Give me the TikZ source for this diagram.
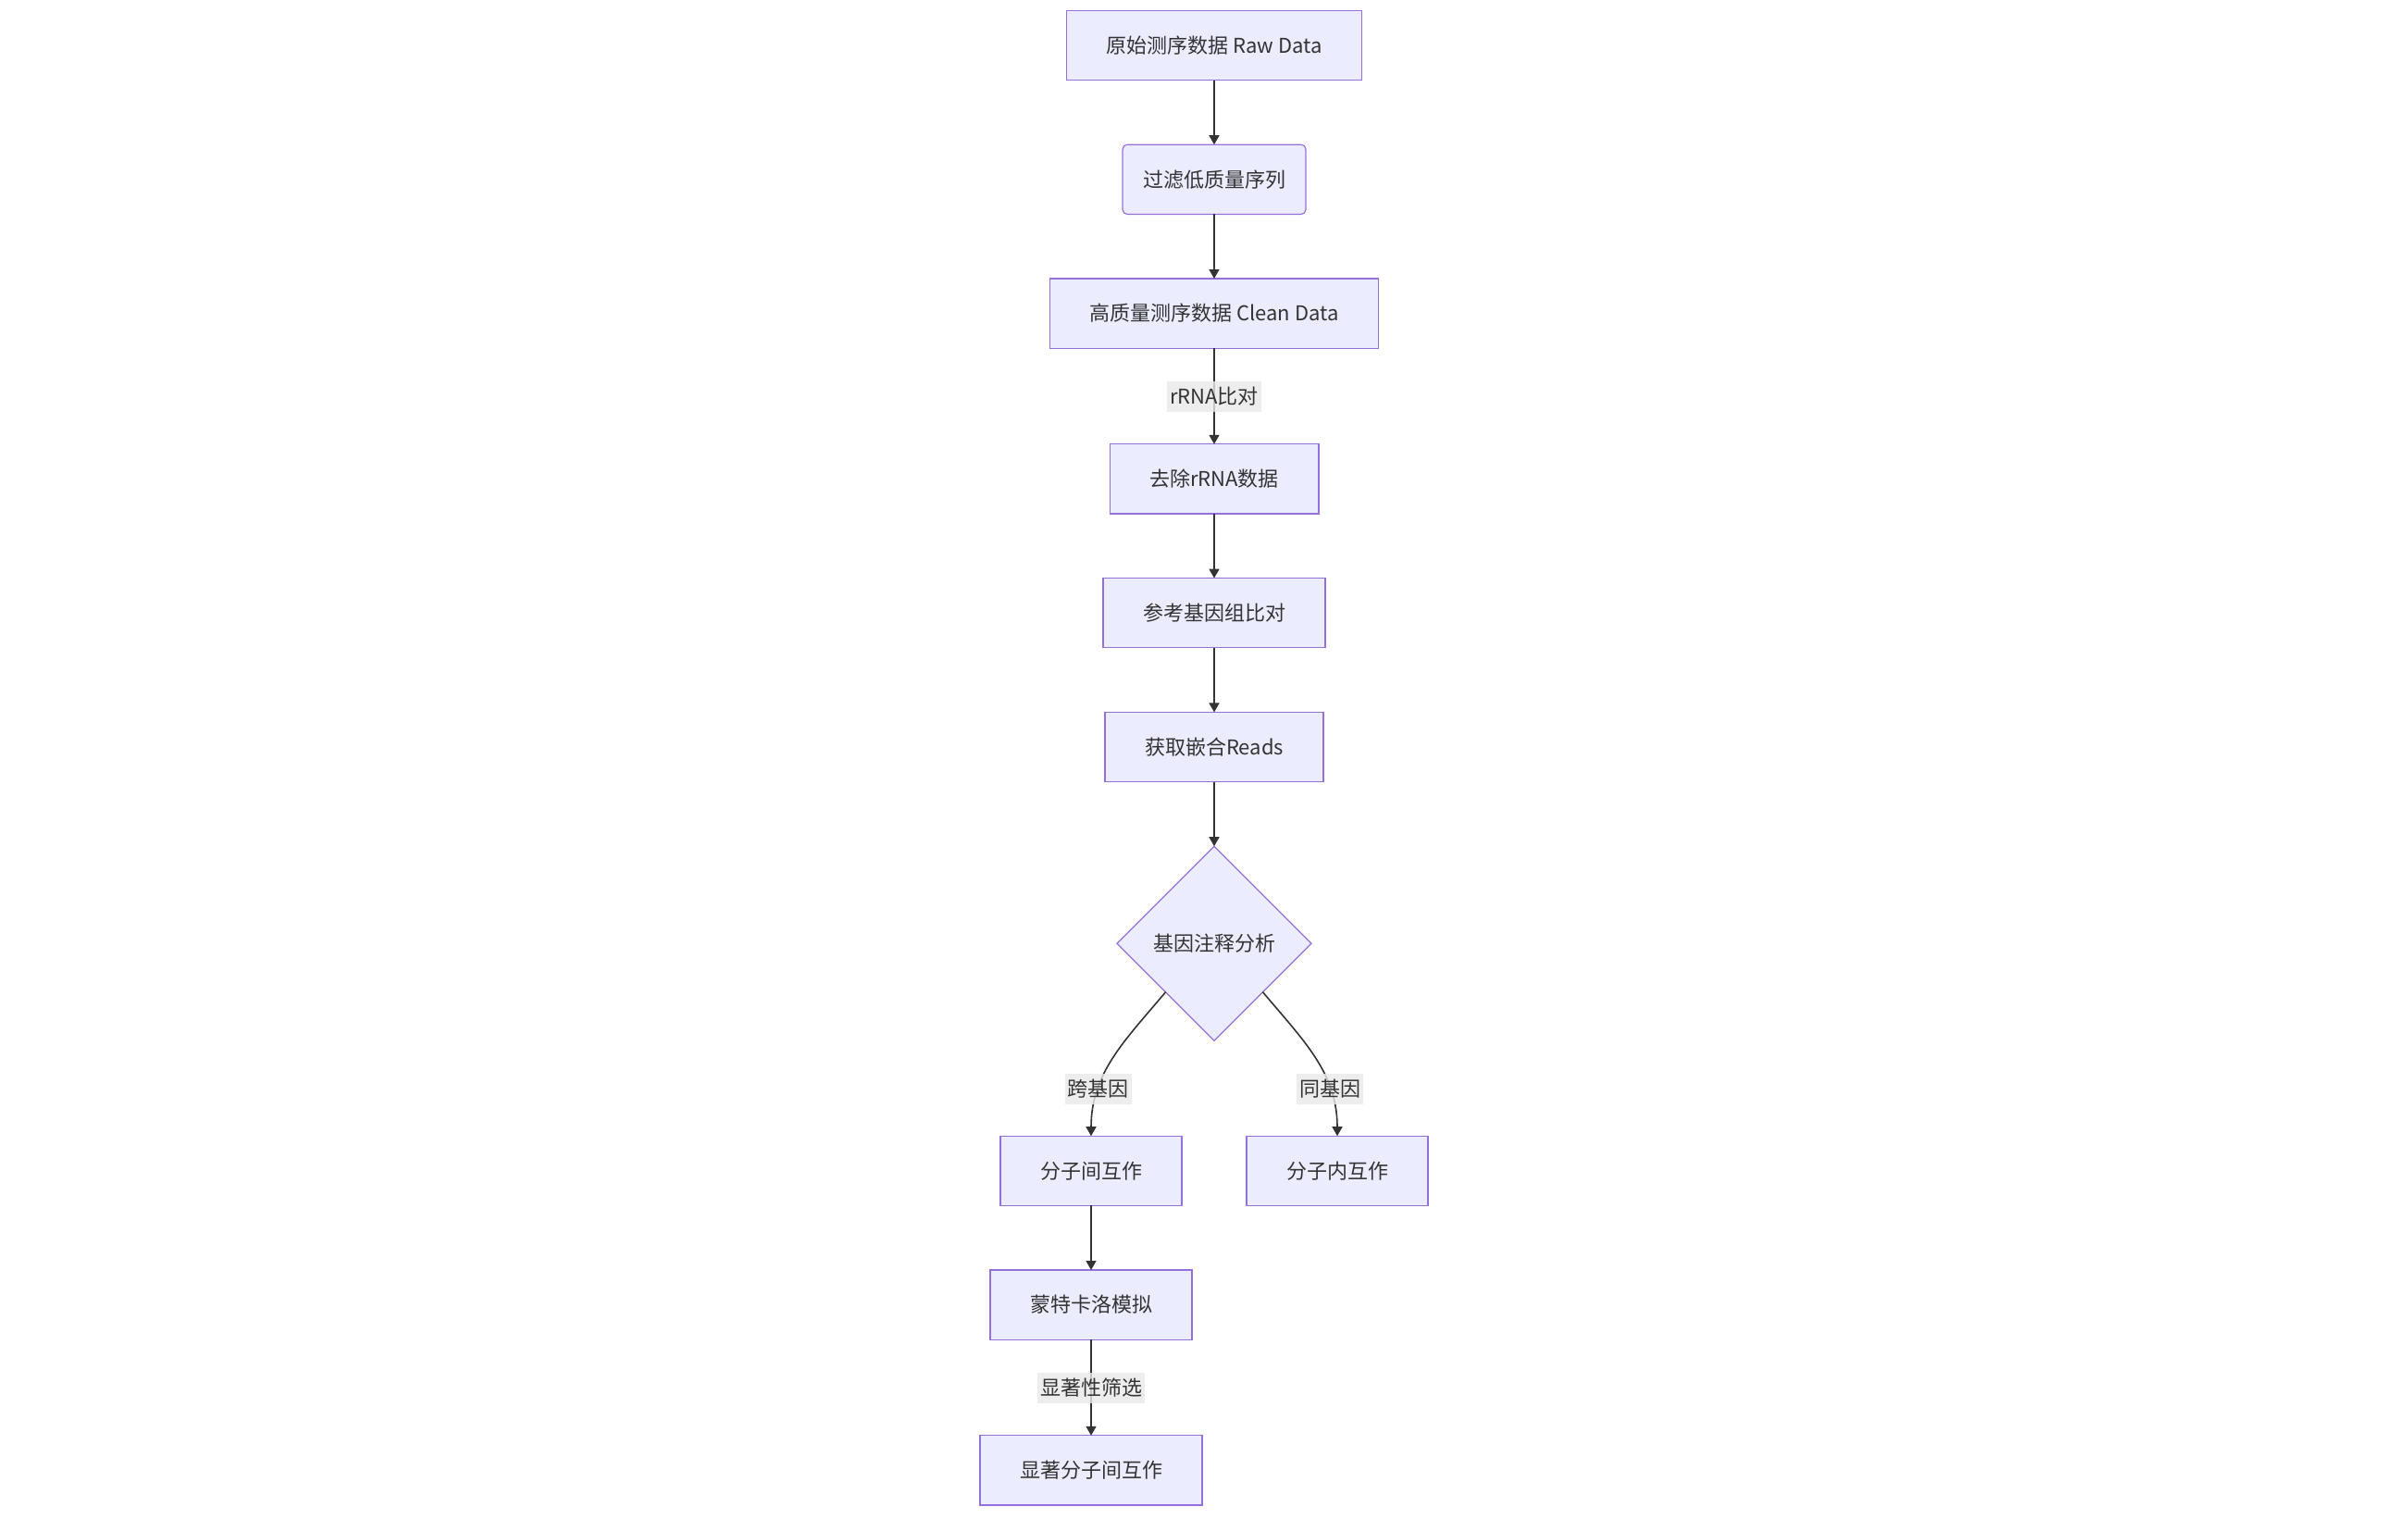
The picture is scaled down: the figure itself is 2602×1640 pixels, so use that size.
\documentclass[tikz,border=0pt]{standalone}
\usepackage{fontspec}
\setmainfont{Noto Sans CJK SC}
\usepackage{xcolor}
\usepackage{tikz}
\usetikzlibrary{arrows.meta,positioning,shapes.geometric}
\tikzset{
  procbox/.style ={draw=nodeborder, fill=nodefill, line width=0.6pt,
                   text=textgray, minimum height=37.6pt, inner xsep=21.5pt,
                   outer sep=0pt, font=\fontsize{11}{13}\selectfont},
  roundbox/.style={procbox, rounded corners=2.5pt, inner xsep=11pt},
  decbox/.style  ={procbox, diamond, aspect=1, inner sep=0pt,
                   minimum width=105pt, minimum height=105pt},
  lbl/.style     ={fill=lblgray, fill opacity=0.8, text opacity=1,
                   text=textgray, inner sep=1.5pt, minimum height=16.5pt,
                   font=\fontsize{11}{13}\selectfont},
  arr/.style     ={-{Triangle[length=5pt,width=5.5pt]}, line width=0.8pt,
                   draw=edgegray},
}
\definecolor{nodefill}  {RGB}{236,236,255}
\definecolor{nodeborder}{RGB}{147,112,219}
\definecolor{edgegray}  {RGB}{51,51,51}
\definecolor{textgray}  {RGB}{51,51,51}
\definecolor{lblgray}   {RGB}{232,232,232}
\begin{document}
\begin{tikzpicture}[x=0.5pt,y=-0.5pt]
  \useasboundingbox (0,0) rectangle (2602,1640);
  \node[procbox] (raw) at (1312,49) {原始测序数据 Raw Data};
  \node[roundbox, below=34.8pt of raw] (filt) {过滤低质量序列};
  \node[procbox, below=34.8pt of filt] (clean) {高质量测序数据 Clean Data};
  \node[procbox, below=51.8pt of clean] (rrna) {去除rRNA数据};
  \node[procbox, below=34.8pt of rrna] (refmap) {参考基因组比对};
  \node[procbox, below=34.8pt of refmap] (chim) {获取嵌合Reads};
  \node[decbox, below=34.8pt of chim] (anno) {基因注释分析};
  \node[procbox, below=51.5pt of anno, xshift=-66.5pt] (inter) {分子间互作};
  \node[procbox, below=51.5pt of anno, xshift=66.5pt] (intra) {分子内互作};
  \node[procbox, below=34.8pt of inter] (mc) {蒙特卡洛模拟};
  \node[procbox, below=51.8pt of mc] (sig) {显著分子间互作};
  \draw[arr] (raw) -- (filt);
  \draw[arr] (filt) -- (clean);
  \draw[arr] (clean) -- node[lbl] {rRNA比对} (rrna);
  \draw[arr] (rrna) -- (refmap);
  \draw[arr] (refmap) -- (chim);
  \draw[arr] (chim) -- (anno);
  \draw[arr] (anno.south west) to[out=-130,in=90] node[lbl,pos=0.72] {跨基因} (inter.north);
  \draw[arr] (anno.south east) to[out=-50,in=90] node[lbl,pos=0.72] {同基因} (intra.north);
  \draw[arr] (inter) -- (mc);
  \draw[arr] (mc) -- node[lbl] {显著性筛选} (sig);
\end{tikzpicture}
\end{document}
